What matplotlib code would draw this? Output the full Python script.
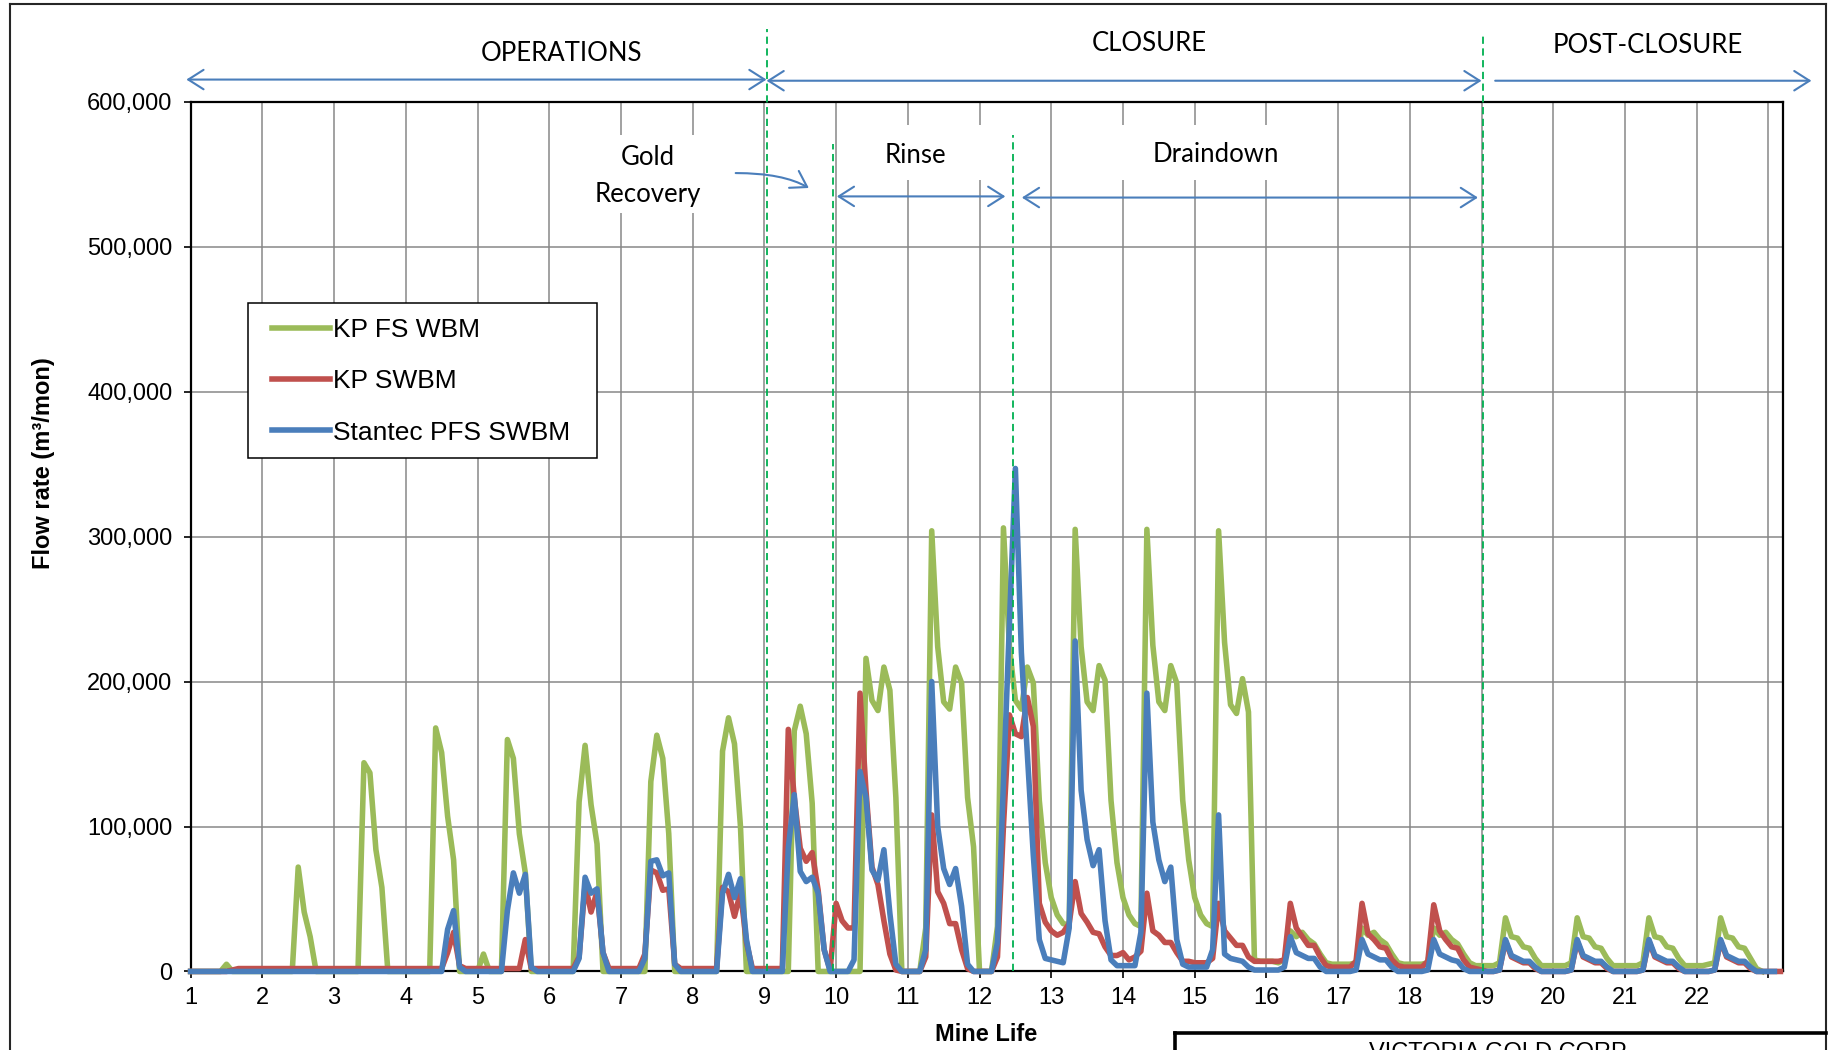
import numpy as np
import matplotlib.pyplot as plt
from matplotlib.patches import Rectangle
from matplotlib.lines import Line2D
from matplotlib.ticker import FuncFormatter

plt.rcParams['font.family'] = ['Liberation Sans', 'DejaVu Sans']

# monthly flow, thousand m3/month, 12 values per year of mine life (year 1 .. 23)
kp_fs_wbm = [
    0, 0, 0, 0, 0, 0, 5, 0, 0, 0, 0, 0,
    0, 0, 0, 0, 0, 0, 72, 41, 24, 0, 0, 0,
    0, 0, 0, 0, 0, 144, 137, 84, 58, 0, 0, 0,
    0, 0, 0, 0, 0, 168, 151, 107, 77, 0, 0, 0,
    0, 12, 0, 0, 0, 160, 147, 95, 68, 0, 0, 0,
    0, 0, 0, 0, 0, 117, 156, 115, 88, 0, 0, 0,
    0, 0, 0, 0, 0, 131, 163, 147, 95, 0, 0, 0,
    0, 0, 0, 0, 0, 152, 175, 157, 100, 0, 0, 0,
    0, 0, 0, 0, 0, 166, 183, 164, 116, 0, 0, 0,
    0, 0, 0, 0, 0, 216, 187, 180, 210, 194, 120, 0,
    0, 0, 0, 30, 304, 224, 186, 181, 210, 199, 120, 86,
    0, 0, 0, 31, 306, 224, 187, 181, 210, 199, 118, 75,
    51, 39, 33, 32, 305, 224, 186, 180, 211, 201, 118, 75,
    51, 39, 33, 31, 305, 225, 186, 180, 211, 199, 118, 77,
    51, 39, 33, 31, 304, 227, 184, 178, 202, 179, 8, 7,
    7, 7, 6, 8, 28, 24, 27, 22, 19, 12, 6, 5,
    5, 5, 5, 6, 30, 25, 27, 22, 19, 12, 6, 5,
    5, 5, 5, 6, 30, 25, 27, 22, 19, 12, 6, 4,
    4, 4, 4, 6, 37, 24, 23, 17, 16, 9, 4, 4,
    4, 4, 4, 6, 37, 24, 23, 17, 16, 9, 4, 4,
    4, 4, 4, 6, 37, 24, 23, 17, 16, 9, 4, 4,
    4, 4, 5, 6, 37, 24, 23, 17, 16, 9, 2, 0,
]
kp_swbm = [
    0, 0, 0, 0, 0, 0, 0, 1, 2, 2, 2, 2,
    2, 2, 2, 2, 2, 2, 2, 2, 2, 2, 2, 2,
    2, 2, 2, 2, 2, 2, 2, 2, 2, 2, 2, 2,
    2, 2, 2, 2, 2, 2, 2, 13, 27, 4, 2, 2,
    2, 2, 2, 2, 2, 2, 2, 2, 22, 2, 2, 2,
    2, 2, 2, 2, 2, 10, 60, 41, 55, 13, 2, 2,
    2, 2, 2, 2, 12, 70, 68, 56, 57, 5, 2, 2,
    2, 2, 2, 2, 2, 58, 55, 38, 55, 20, 2, 2,
    2, 2, 2, 2, 167, 120, 85, 76, 82, 56, 15, 1,
    47, 35, 30, 30, 192, 125, 72, 60, 35, 12, 1, 0,
    0, 0, 0, 10, 108, 55, 47, 33, 33, 15, 2, 0,
    0, 0, 0, 10, 100, 177, 164, 162, 189, 169, 47, 34,
    28, 25, 27, 33, 62, 40, 34, 27, 26, 17, 11, 11,
    13, 8, 10, 14, 54, 28, 25, 20, 20, 13, 7, 7,
    6, 6, 6, 9, 47, 28, 23, 18, 18, 10, 7, 7,
    7, 7, 7, 8, 47, 30, 24, 18, 18, 10, 4, 3,
    3, 3, 3, 7, 47, 26, 22, 17, 16, 8, 4, 3,
    3, 3, 3, 7, 46, 28, 22, 17, 16, 8, 3, 2,
    1, 0, 0, 1, 21, 10, 8, 6, 6, 2, 0, 0,
    0, 0, 0, 1, 21, 10, 8, 6, 6, 2, 0, 0,
    0, 0, 0, 1, 21, 10, 8, 6, 6, 2, 0, 0,
    0, 0, 0, 1, 21, 10, 8, 6, 6, 2, 0, 0,
    0, 0, 0,
]
stantec_pfs_swbm = [
    0, 0, 0, 0, 0, 0, 0, 0, 0, 0, 0, 0,
    0, 0, 0, 0, 0, 0, 0, 0, 0, 0, 0, 0,
    0, 0, 0, 0, 0, 0, 0, 0, 0, 0, 0, 0,
    0, 0, 0, 0, 0, 0, 0, 29, 42, 3, 0, 0,
    0, 0, 0, 0, 0, 42, 68, 54, 67, 3, 0, 0,
    0, 0, 0, 0, 0, 9, 65, 54, 57, 13, 0, 0,
    0, 0, 0, 0, 9, 76, 77, 66, 68, 5, 0, 0,
    0, 0, 0, 0, 0, 54, 67, 51, 64, 22, 0, 0,
    0, 0, 0, 0, 85, 122, 69, 62, 65, 54, 15, 0,
    0, 0, 0, 8, 138, 120, 70, 63, 84, 40, 5, 0,
    0, 0, 0, 15, 200, 100, 71, 60, 71, 45, 5, 0,
    0, 0, 0, 20, 130, 240, 347, 220, 150, 80, 22, 9,
    8, 7, 6, 30, 228, 125, 91, 73, 84, 35, 8, 4,
    4, 4, 4, 27, 192, 103, 77, 62, 72, 22, 5, 3,
    3, 3, 3, 15, 108, 12, 9, 8, 7, 3, 1, 1,
    1, 1, 1, 3, 24, 13, 11, 9, 9, 3, 0, 0,
    0, 0, 0, 1, 22, 12, 10, 8, 8, 3, 0, 0,
    0, 0, 0, 1, 22, 12, 10, 8, 7, 2, 0, 0,
    0, 0, 0, 1, 22, 11, 9, 7, 7, 3, 0, 0,
    0, 0, 0, 1, 22, 11, 9, 7, 7, 3, 0, 0,
    0, 0, 0, 1, 22, 11, 9, 7, 7, 3, 0, 0,
    0, 0, 0, 1, 22, 11, 9, 7, 7, 3, 0, 0,
    0, 0,
]
series_names = ["KP FS WBM", "KP SWBM", "Stantec PFS SWBM"]
series_colors = ["#9BBB59", "#C0504D", "#4A7EBB"]

phase_lines = [9.03, 9.95, 12.46, 19.02]
phase_line_tops = [650000, 571000, 577000, 646000]

BLUE = "#4A7EBB"
ANNOT_FONT = ["Lato", "DejaVu Sans"]

fig = plt.figure(figsize=(18.33, 10.5), dpi=100)
ax = fig.add_axes([0.104, 0.0748, 0.8686, 0.8283])

for i, (vals, name, col) in enumerate(zip([kp_fs_wbm, kp_swbm, stantec_pfs_swbm],
                                          series_names, series_colors)):
    x = 1 + np.arange(len(vals)) / 12.0
    ax.plot(x, np.array(vals) * 1000, color=col, lw=4.0, label=name,
            zorder=3 + i, solid_joinstyle="round", clip_on=False)

ax.set_xlim(1, 23.2)
ax.set_ylim(0, 600000)
ax.set_xticks(range(1, 24))
ax.set_xticklabels([str(i) for i in range(1, 23)] + [""])
ax.set_yticks(range(0, 600001, 100000))
ax.yaxis.set_major_formatter(FuncFormatter(lambda v, p: f"{int(v):,}"))
ax.tick_params(axis="both", labelsize=17, direction="out", length=5, width=1.2)
ax.tick_params(axis="x", pad=6)
ax.tick_params(axis="y", pad=8)
ax.set_axisbelow(True)
ax.grid(True, color="#878787", lw=1.1)
for sp in ax.spines.values():
    sp.set_linewidth(1.6)
    sp.set_color("black")

# phase boundary lines
for xv, top in zip(phase_lines, phase_line_tops):
    ax.plot([xv, xv], [0, top], color="#00B050", lw=1.3, ls=(0, (4, 2.5)),
            zorder=8, clip_on=False)

# white text boxes hiding gridlines
for (x0, x1, y0, y1) in [(6.53, 8.32, 523000, 577000),
                         (10.2, 12.05, 546000, 584000),
                         (13.8, 16.41, 546000, 584000)]:
    ax.add_patch(Rectangle((x0, y0), x1 - x0, y1 - y0, facecolor="white",
                           edgecolor="none", zorder=1))

# phase texts
ax.text(6.17, 633000, "OPERATIONS", ha="center", va="center", fontsize=18.5,
        family=ANNOT_FONT, clip_on=False)
ax.text(14.37, 640000, "CLOSURE", ha="center", va="center", fontsize=18.5,
        family=ANNOT_FONT, clip_on=False)
ax.text(21.32, 638500, "POST-CLOSURE", ha="center", va="center", fontsize=18.5,
        family=ANNOT_FONT, clip_on=False)
ax.text(7.37, 549000, "Gold\nRecovery", ha="center", va="center", fontsize=18.5,
        family=ANNOT_FONT, linespacing=1.6, zorder=2)
ax.text(11.1, 563000, "Rinse", ha="center", va="center", fontsize=18.5,
        family=ANNOT_FONT, zorder=2)
ax.text(15.29, 563500, "Draindown", ha="center", va="center", fontsize=18.5,
        family=ANNOT_FONT, zorder=2)

# phase arrows
arrow_kw = dict(color=BLUE, lw=1.5, shrinkA=0, shrinkB=0)
head = ",head_length=1.1,head_width=0.7"
for (xa, xb, yv, style) in [(0.94, 9.03, 615300, "<->"),
                            (9.03, 19.0, 614500, "<->"),
                            (19.19, 23.6, 614500, "->"),
                            (10.01, 12.36, 534700, "<->"),
                            (12.59, 18.95, 533900, "<->")]:
    ax.annotate("", xy=(xb, yv), xytext=(xa, yv), annotation_clip=False,
                arrowprops=dict(arrowstyle=style + head, **arrow_kw), zorder=9)
ax.annotate("", xy=(9.62, 540500), xytext=(8.6, 550800), annotation_clip=False,
            arrowprops=dict(arrowstyle="->" + head,
                            connectionstyle="angle3,angleA=0,angleB=-30", **arrow_kw),
            zorder=9)

# legend with its own square frame
ax.add_patch(Rectangle((0.036, 0.590), 0.2195, 0.179, transform=ax.transAxes,
                       facecolor="white", edgecolor="black", lw=1.1, zorder=10))
leg = ax.legend(loc="upper left", bbox_to_anchor=(0.0514, 0.751), frameon=False,
                fontsize=19, borderpad=0, borderaxespad=0, handlelength=2.17,
                handletextpad=0.13, labelspacing=1.03)
leg.set_zorder(11)

# axis titles
fig.text(0.0236, 0.559, "Flow rate (m³/mon)", rotation=90, ha="center", va="center",
         fontsize=17, fontweight="bold")
fig.text(0.538, 0.0147, "Mine Life", ha="center", va="center", fontsize=17,
         fontweight="bold")

# outer drawing frame and title block
W, H = 1833.0, 1050.0
frame_kw = dict(color="#262626", lw=1.5, transform=fig.transFigure)
fig.add_artist(Line2D([9.5 / W, 9.5 / W], [-0.1, 1 - 4 / H], **frame_kw))
fig.add_artist(Line2D([9.5 / W, 1826 / W], [1 - 4 / H, 1 - 4 / H], **frame_kw))
fig.add_artist(Line2D([1826 / W, 1826 / W], [1 - 4 / H, -0.1], **frame_kw))
tb_kw = dict(color="black", lw=2.6, transform=fig.transFigure)
fig.add_artist(Line2D([1175 / W, 1826 / W], [1 - 1033 / H, 1 - 1033 / H], **tb_kw))
fig.add_artist(Line2D([1175 / W, 1175 / W], [1 - 1033 / H, -0.1], **tb_kw))
fig.text(1500 / W, 1 - 1042 / H, "VICTORIA GOLD CORP.", ha="center", va="top",
         fontsize=17)

fig.savefig("out.png", dpi=100)
